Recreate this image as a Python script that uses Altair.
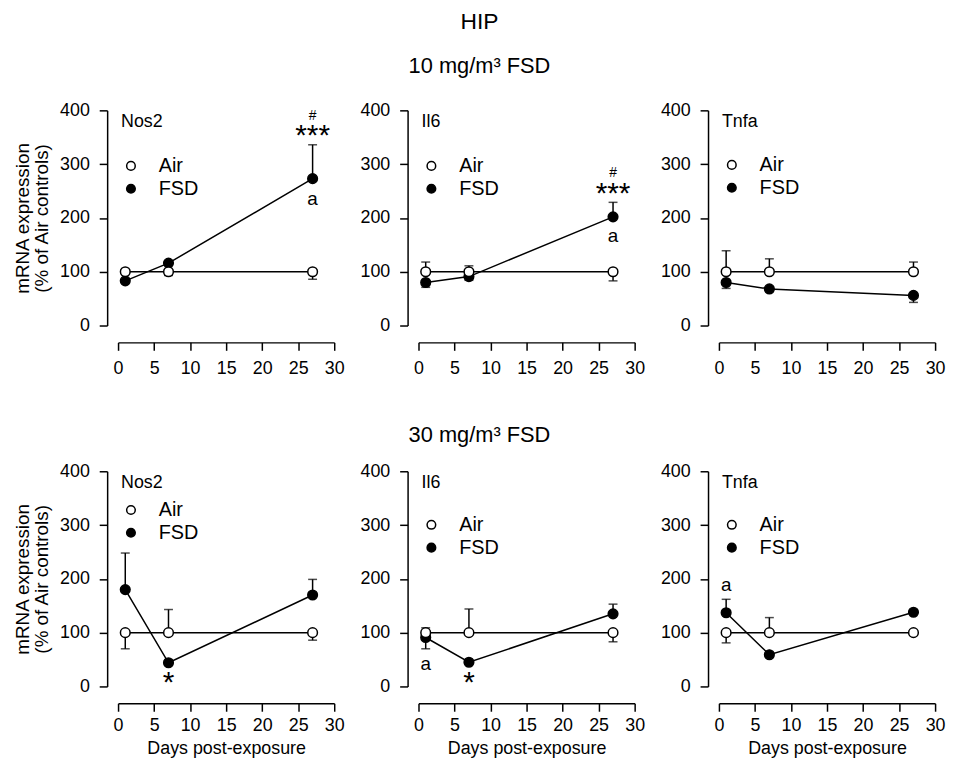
import altair as alt
import pandas as pd

FONT = "Liberation Sans"

days = [1, 7, 27]
genes = ["Nos2", "Il6", "Tnfa"]
doses = ["10 mg/m³ FSD", "30 mg/m³ FSD"]

# ---- 10 mg/m3 FSD ----
air_10 = {"Nos2": [100, 100, 100], "Il6": [100, 100, 100], "Tnfa": [100, 100, 100]}
air_10_errend = {"Nos2": [100, 93, 86], "Il6": [118, 111, 83], "Tnfa": [139, 124, 118]}
fsd_10 = {"Nos2": [83, 116, 273], "Il6": [80, 91, 202], "Tnfa": [80, 68, 56]}
fsd_10_errend = {"Nos2": [80, 119, 336], "Il6": [71, 84, 229], "Tnfa": [69, 63, 43]}

# ---- 30 mg/m3 FSD ----
air_30 = {"Nos2": [100, 100, 100], "Il6": [100, 100, 100], "Tnfa": [100, 100, 100]}
air_30_errend = {"Nos2": [70, 143, 86], "Il6": [109, 144, 83], "Tnfa": [81, 128, 95]}
fsd_30 = {"Nos2": [180, 44, 170], "Il6": [91, 45, 135], "Tnfa": [137, 59, 138]}
fsd_30_errend = {"Nos2": [248, 40, 199], "Il6": [70, 41, 153], "Tnfa": [162, 55, 142]}

# annotations: dose index, gene, day, value, text
ann_dose = [0, 0, 0, 0, 0, 0, 1, 1, 1, 1]
ann_gene = ["Nos2", "Nos2", "Nos2", "Il6", "Il6", "Il6", "Nos2", "Il6", "Il6", "Tnfa"]
ann_day = [27, 27, 27, 27, 27, 27, 7, 1, 7, 1]
ann_val = [236, 357, 390, 167, 249, 283, 12, 41, 12, 189]
ann_text = ["a", "***", "#", "a", "***", "#", "*", "a", "*", "a"]

air_vals = [air_10, air_30]
air_errs = [air_10_errend, air_30_errend]
fsd_vals = [fsd_10, fsd_30]
fsd_errs = [fsd_10_errend, fsd_30_errend]

title_pad = {(0, "Nos2"): 25, (0, "Il6"): 25, (0, "Tnfa"): 24,
             (1, "Nos2"): 8, (1, "Il6"): 23, (1, "Tnfa"): 23}


def panel(di, gene, col):
    rows = []
    for g, vals, errs in (("FSD", fsd_vals[di], fsd_errs[di]), ("Air", air_vals[di], air_errs[di])):
        for d, v, e in zip(days, vals[gene], errs[gene]):
            rows.append({"day": d, "val": v, "err": e, "group": g})
    df = pd.DataFrame(rows)

    bottom = di == 1
    xaxis = alt.Axis(
        values=[0, 5, 10, 15, 20, 25, 30], offset=17, tickSize=8,
        labelPadding=5 if bottom else 9,
        labelFlush=False, labelFont=FONT, labelFontSize=18,
        title="Days post-exposure" if bottom else None,
        titleFont=FONT, titleFontSize=18, titleFontWeight="normal", titlePadding=6,
    )
    yaxis = alt.Axis(
        values=[0, 100, 200, 300, 400], offset=11, tickSize=8, labelPadding=10,
        labelFont=FONT, labelFontSize=18,
        title=["mRNA expression", "(% of Air controls)"] if col == 0 else None,
        titleFont=FONT, titleFontSize=19, titleFontWeight="normal", titlePadding=8,
        titleLineHeight=19,
    )
    xs = alt.X("day:Q", scale=alt.Scale(domain=[0, 30], nice=False, zero=False), axis=xaxis)
    ys = alt.Y("val:Q", scale=alt.Scale(domain=[0, 400], nice=False), axis=yaxis)

    base = alt.Chart(df)
    lines = base.mark_line(color="black", strokeWidth=1.5).encode(
        x=xs, y=ys, detail="group:N", order="day:Q")
    rules = base.mark_rule(color="black", strokeWidth=1.5).encode(
        x=xs, y=ys, y2=alt.Y2("err:Q"))
    caps = base.mark_tick(color="black", orient="horizontal", size=9, thickness=1.5).encode(
        x=xs, y=alt.Y("err:Q"))
    pts = base.mark_point(shape="circle", filled=True, stroke="black", strokeWidth=1.5,
                          size=95, opacity=1, fillOpacity=1).encode(
        x=xs, y=ys,
        fill=alt.Fill("group:N", scale=alt.Scale(domain=["Air", "FSD"], range=["white", "black"]),
                      legend=alt.Legend(
                          title=gene, orient="none", legendX=3, legendY=3,
                          titleFont=FONT, titleFontSize=18, titleFontWeight="normal",
                          titleColor="black", titlePadding=title_pad[(di, gene)],
                          labelFont=FONT, labelFontSize=20, labelColor="black",
                          labelOffset=18, rowPadding=3, padding=0,
                          symbolType="circle", symbolSize=75, symbolStrokeColor="black",
                          symbolStrokeWidth=1.5)),
        order=alt.Order("group:N", sort="descending"),
    )
    layers = [lines, rules, caps, pts]

    adf = pd.DataFrame({"dose": ann_dose, "gene": ann_gene, "day": ann_day,
                        "val": ann_val, "text": ann_text})
    adf = adf[(adf["dose"] == di) & (adf["gene"] == gene)]
    if len(adf):
        ab = alt.Chart(adf)
        stars = ab.transform_filter("indexof(datum.text, '*') >= 0").mark_text(
            font=FONT, fontSize=30, color="black", baseline="middle", dy=3).encode(
            x=xs, y=ys, text="text:N")
        small = ab.transform_filter("datum.text == 'a'").mark_text(
            font=FONT, fontSize=19, color="black", baseline="middle").encode(
            x=xs, y=ys, text="text:N")
        hashes = ab.transform_filter("datum.text == '#'").mark_text(
            font=FONT, fontSize=14, color="black", baseline="middle").encode(
            x=xs, y=ys, text="text:N")
        layers += [stars, small, hashes]

    return alt.layer(*layers).properties(width=218, height=217)


rows_ = []
for di, dose in enumerate(doses):
    r = alt.hconcat(*[panel(di, g, c) for c, g in enumerate(genes)], spacing=14,
                    title=alt.Title(dose, font=FONT, fontSize=22, fontWeight="normal",
                                    color="black", anchor="middle",
                                    offset=24 if di == 0 else 16))
    r = r.resolve_scale(fill="independent").resolve_legend(fill="independent")
    rows_.append(r)

chart = alt.vconcat(*rows_, spacing=47,
                    title=alt.Title("HIP", font=FONT, fontSize=23, fontWeight="normal",
                                    color="black", anchor="middle", offset=21))
chart = chart.resolve_scale(fill="independent").resolve_legend(fill="independent")
chart = chart.properties(padding={"left": 5, "top": 0, "right": 0, "bottom": 4}).configure(
    font=FONT).configure_view(stroke=None).configure_axis(
    grid=False, domainColor="black", domainWidth=1.5, tickColor="black", tickWidth=1.5,
    labelColor="black", titleColor="black")

chart.save("out.html", embed_options={"renderer": "svg", "actions": False})
